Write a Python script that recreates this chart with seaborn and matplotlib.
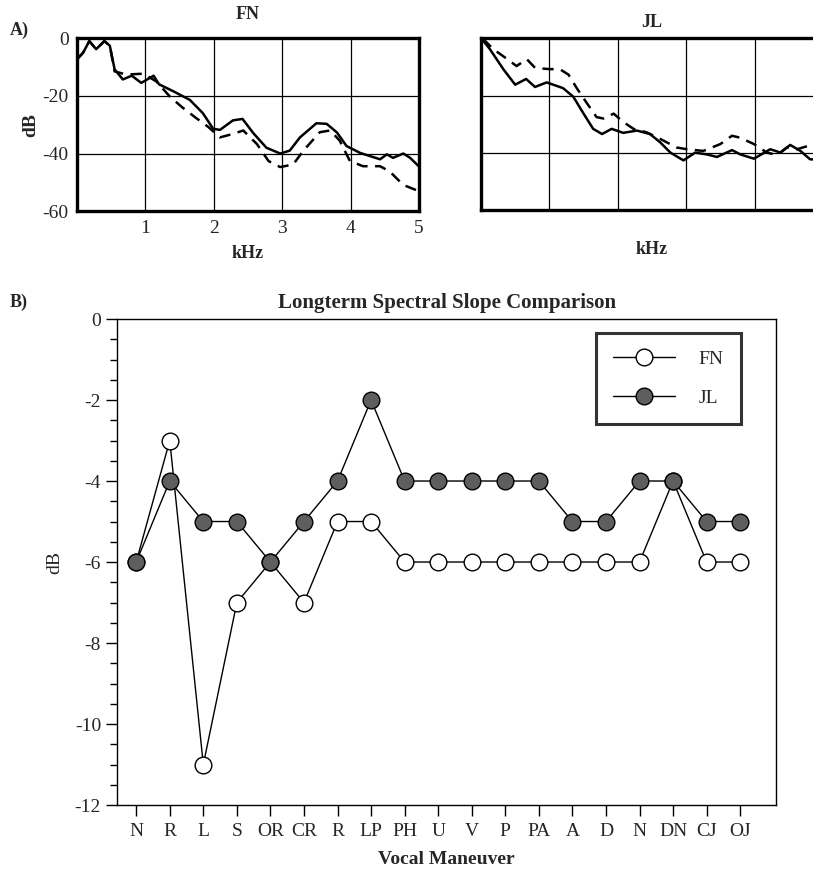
import numpy as np
import pandas as pd
import seaborn as sns
import matplotlib.pyplot as plt
from matplotlib.ticker import MultipleLocator

sns.set_style('ticks')
plt.rcParams['font.family'] = ['Liberation Serif', 'DejaVu Serif']
plt.rcParams['axes.unicode_minus'] = False

# ---- panel A : long-term spectra (kHz, dB) ----
fn_solid_khz = [0, 0.09, 0.18, 0.28, 0.4, 0.48, 0.55, 0.67, 0.8, 0.94, 1.12, 1.2, 1.4, 1.65, 1.84,
                1.99, 2.09, 2.28, 2.42, 2.58, 2.77, 2.97, 3.11, 3.26, 3.5, 3.65, 3.8, 3.94, 4.14,
                4.43, 4.53, 4.62, 4.77, 4.87, 5.0]
fn_solid_db = [-7.3, -5, -1, -3.8, -1, -2.6, -10.8, -14.3, -13, -15.5, -13, -16, -18.3, -21.4, -26,
               -31.4, -31.8, -28.5, -28, -33, -38, -40, -39, -34.4, -29.5, -29.7, -32.7, -37.4, -39.8,
               -42, -40.3, -41.5, -40, -41.5, -44.5]
fn_dash_khz = [0, 0.09, 0.18, 0.28, 0.4, 0.48, 0.55, 0.72, 0.97, 1.16, 1.36, 1.53, 1.72, 1.92, 2.09,
               2.28, 2.43, 2.63, 2.8, 2.97, 3.16, 3.31, 3.55, 3.7, 3.84, 3.99, 4.18, 4.43, 4.57,
               4.77, 4.96, 5.0]
fn_dash_db = [-7.3, -5, -1, -3.8, -1, -2.6, -11.5, -12.6, -12.3, -15, -20.3, -23.8, -27.3, -30.8, -34.4,
              -33.2, -32, -36.7, -42.6, -44.7, -43.8, -39, -32.6, -32, -35.5, -42.6, -44.4, -44.4, -46.2,
              -50.9, -52.7, -52.8]

jl_solid_khz = [0.03, 0.13, 0.33, 0.5, 0.66, 0.79, 0.96, 1.2, 1.35, 1.5, 1.64, 1.77, 1.91, 2.08, 2.28,
                2.47, 2.62, 2.77, 2.96, 3.13, 3.3, 3.45, 3.67, 3.79, 3.99, 4.23, 4.38, 4.52, 4.67,
                4.81, 5.0]
jl_solid_db = [-0.8, -3.8, -10.9, -16.2, -14.2, -17, -15.4, -17.4, -20.4, -26.3, -31.6, -33.4, -31.6, -33,
               -32.2, -33.4, -36.3, -39.9, -42.6, -39.9, -40.5, -41.4, -39, -40.5, -42, -38.7, -39.9,
               -37.2, -39.3, -42.2, -42.5]
jl_dash_khz = [0.03, 0.18, 0.35, 0.52, 0.67, 0.79, 0.96, 1.16, 1.28, 1.4, 1.55, 1.69, 1.79, 1.94, 2.08,
               2.23, 2.42, 2.62, 2.86, 3.01, 3.25, 3.5, 3.67, 3.79, 3.99, 4.18, 4.33, 4.47, 4.62,
               4.79, 5.0]
jl_dash_db = [-0.2, -3.8, -6.7, -9.7, -7.3, -10.3, -10.7, -10.9, -12.7, -17.4, -22.7, -27.5, -28, -26.3,
              -29.2, -31.6, -32.8, -35.1, -38.1, -38.7, -39.3, -36.9, -34, -34.7, -36.9, -39.9, -40.7,
              -38.1, -38.7, -37.5, -37.2]

# ---- panel B : longterm spectral slope ----
maneuvers = ['N', 'R', 'L', 'S', 'OR', 'CR', 'R', 'LP', 'PH', 'U', 'V', 'P', 'PA', 'A', 'D', 'N',
             'DN', 'CJ', 'OJ']
fn_slope = [-6, -3, -11, -7, -6, -7, -5, -5, -6, -6, -6, -6, -6, -6, -6, -6, -4, -6, -6]
jl_slope = [-6, -4, -5, -5, -6, -5, -4, -2, -4, -4, -4, -4, -4, -5, -5, -4, -4, -5, -5]

fig = plt.figure(figsize=(8.13, 8.69), dpi=100)


def spectrum_axes(rect, solid_x, solid_y, dash_x, dash_y, title, labels, tpad):
    ax = fig.add_axes(rect)
    sns.lineplot(x=solid_x, y=solid_y, ax=ax, color='black', lw=1.8, sort=False)
    sns.lineplot(x=dash_x, y=dash_y, ax=ax, color='black', lw=1.8, sort=False,
                 linestyle=(0, (4.5, 3)))
    ax.set_xlim(0, 5)
    ax.set_ylim(-60, 0)
    ax.set_xticks([1, 2, 3, 4, 5])
    ax.set_yticks([0, -20, -40, -60])
    ax.grid(True, color='black', lw=0.9)
    for s in ax.spines.values():
        s.set_linewidth(2.4)
        s.set_color('black')
    ax.tick_params(length=0, labelsize=14, pad=6)
    ax.set_title(title, fontsize=13, fontweight='bold', pad=tpad)
    if labels:
        ax.set_xlabel('kHz', fontsize=13, fontweight='bold', labelpad=6)
        ax.set_ylabel('dB', fontsize=14, fontweight='bold', labelpad=2)
    else:
        ax.set_xticklabels([])
        ax.set_yticklabels([])
        ax.set_xlabel('kHz', fontsize=13, fontweight='bold', labelpad=16)
    return ax


ax_fn = spectrum_axes([0.0947, 0.757, 0.4207, 0.199], fn_solid_khz, fn_solid_db,
                      fn_dash_khz, fn_dash_db, 'FN', True, 14)
ax_jl = spectrum_axes([0.5916, 0.758, 0.4207, 0.198], jl_solid_khz, jl_solid_db,
                      jl_dash_khz, jl_dash_db, 'JL', False, 8)

fig.text(0.012, 0.965, 'A)', fontsize=13, fontweight='bold', va='center')
fig.text(0.012, 0.652, 'B)', fontsize=13, fontweight='bold', va='center')

# ---- panel B ----
ax = fig.add_axes([0.144, 0.0736, 0.8106, 0.5593])
pos = np.arange(len(maneuvers))
sns.lineplot(x=pos, y=fn_slope, ax=ax, color='black', lw=1.0, marker='o', markersize=12,
             markerfacecolor='white', markeredgecolor='black', markeredgewidth=1.0,
             label='FN', zorder=3)
sns.lineplot(x=pos, y=jl_slope, ax=ax, color='black', lw=1.0, marker='o', markersize=12,
             markerfacecolor='#5e5e5e', markeredgecolor='black', markeredgewidth=1.0,
             label='JL', zorder=4)

ax.set_xlim(-0.57, 19.07)
ax.set_ylim(-12, 0)
ax.set_xticks(pos)
ax.set_xticklabels(maneuvers)
ax.yaxis.set_major_locator(MultipleLocator(2))
ax.yaxis.set_minor_locator(MultipleLocator(0.5))
ax.tick_params(axis='both', which='major', direction='out', length=8, width=1, labelsize=14,
               color='black')
ax.tick_params(axis='y', which='minor', direction='out', length=5, width=1, color='black')
ax.tick_params(axis='x', pad=5)
for s in ax.spines.values():
    s.set_linewidth(1.0)
    s.set_color('black')
ax.set_title('Longterm Spectral Slope Comparison', fontsize=15, fontweight='bold', pad=8)
ax.set_xlabel('Vocal Maneuver', fontsize=14, fontweight='bold', labelpad=8)
ax.set_ylabel('dB', fontsize=14, labelpad=8)

leg = ax.legend(loc='upper right', bbox_to_anchor=(0.947, 0.972), fontsize=14, frameon=True,
                fancybox=False, handlelength=3.2, borderpad=0.9, labelspacing=1.1,
                handletextpad=1.2, borderaxespad=0)
leg.get_frame().set_edgecolor('black')
leg.get_frame().set_linewidth(2.2)

fig.savefig('out.png', dpi=100)
